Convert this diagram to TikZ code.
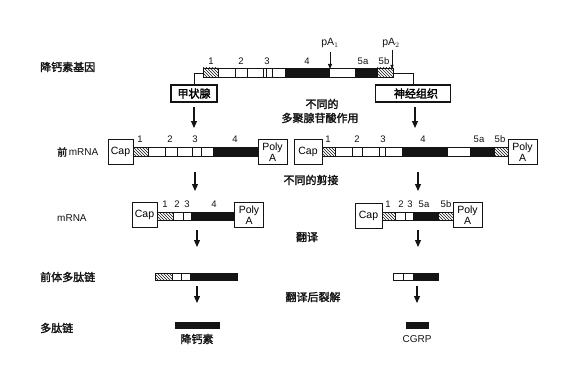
\documentclass[tikz,border=0pt]{standalone}
\usepackage{fontspec}
\setmainfont{Liberation Sans}
\newfontfamily\cjk[FakeBold=2]{Noto Sans CJK SC}
\usetikzlibrary{arrows.meta,patterns}
\definecolor{scanink}{HTML}{141414}
\newcommand{\wexon}[4]{\draw[scanink, line width=0.7pt, fill=white] (#3,#1) rectangle (#4,#2);}
\newcommand{\bexon}[4]{\draw[scanink, line width=0.7pt, fill=scanink] (#3,#1) rectangle (#4,#2);}
\newcommand{\hexon}[4]{\draw[scanink, line width=0.7pt, pattern=north west lines, pattern color=scanink] (#3,#1) rectangle (#4,#2);}

\begin{document}
\begin{tikzpicture}[x=1pt, y=-1pt,
  rowlbl/.style={scanink, anchor=west, inner sep=0, font=\cjk\fontsize{11}{13}\selectfont},
  midlbl/.style={scanink, inner sep=0, font=\cjk\fontsize{11}{13}\selectfont},
  exlbl/.style={scanink, inner sep=0, font=\fontsize{9.5}{10}\selectfont},
  tissuebox/.style={draw=scanink, line width=1.2pt, minimum height=17pt, inner sep=0, font=\cjk\fontsize{11}{13}\selectfont},
  capbox/.style={draw=scanink, line width=1pt, fill=white, minimum width=25pt, minimum height=25pt, inner sep=0, font=\fontsize{10.5}{11}\selectfont},
  polybox/.style={draw=scanink, line width=1pt, fill=white, minimum width=29pt, minimum height=25pt, inner sep=0, align=center, font=\fontsize{10.5}{10.5}\selectfont},
  flowarrow/.style={scanink, line width=1.1pt, -{Triangle[length=7pt,width=6pt]}},
  linkline/.style={scanink, line width=0.9pt}]

  \useasboundingbox[fill=white] (0,0) rectangle (569,377);

  % gene
  \node[rowlbl] (lblgene) at (40,67) {降钙素基因};
  \hexon{68}{77}{203}{218}
  \wexon{68}{77}{218}{235}
  \wexon{68}{77}{235}{247}
  \wexon{68}{77}{247}{263}
  \wexon{68}{77}{263}{266}
  \wexon{68}{77}{266}{272}
  \wexon{68}{77}{272}{285}
  \bexon{68}{77}{285}{329}
  \wexon{68}{77}{329}{355}
  \bexon{68}{77}{355}{377}
  \hexon{68}{77}{377}{393}
  \node[exlbl] (g1) at (211,61) {1};
  \node[exlbl] (g2) at (241,61) {2};
  \node[exlbl] (g3) at (267,61) {3};
  \node[exlbl] (g4) at (307,61) {4};
  \node[exlbl] (g5a) at (363,61) {5a};
  \node[exlbl] (g5b) at (384,61) {5b};
  \node[exlbl, font=\fontsize{10.5}{11}\selectfont] (pa1) at (330,43) {pA$_1$};
  \node[exlbl, font=\fontsize{10.5}{11}\selectfont] (pa2) at (391,43) {pA$_2$};
  \coordinate (pa1tip) at (330,69);
  \coordinate (pa2tip) at (392,69);
  \draw[scanink, line width=1pt, -{Triangle[length=5pt,width=4pt]}] ([yshift=-4pt]pa1.south) -- (pa1tip);
  \draw[scanink, line width=0.7pt, -{Triangle[length=4pt,width=3pt]}] ([yshift=-2pt]pa2.south -| pa2tip) -- (pa2tip);

  \coordinate (gL) at (203,73);
  \coordinate (gR) at (393,73);
  \node[tissuebox, minimum width=46pt] (thy) at (194,93.5) {甲状腺};
  \node[tissuebox, minimum width=75pt] (neu) at (413,93.5) {\hspace{6pt}神经组织};
  \draw[linkline] (gL) -| (thy.north);
  \draw[linkline] (gR) -| (neu.north);

  \node[midlbl] (polyad1) at (322,104) {不同的};
  \node[midlbl] (polyad2) at (320,118) {多聚腺苷酸作用};

  \coordinate (a1L) at (194,107);
  \coordinate (b1L) at (194,128);
  \coordinate (a1R) at (415,107);
  \coordinate (b1R) at (415,128);
  \draw[flowarrow] (a1L) -- (b1L);
  \draw[flowarrow] (a1R) -- (b1R);

  % pre-mRNA
  \node[rowlbl, font=\fontsize{10}{11}\selectfont] (lblpre) at (57,152) {{\cjk 前}\,mRNA};
  \hexon{147}{156}{133}{148}
  \wexon{147}{156}{148}{165}
  \wexon{147}{156}{165}{177}
  \wexon{147}{156}{177}{192}
  \wexon{147}{156}{192}{201}
  \wexon{147}{156}{201}{213}
  \bexon{147}{156}{213}{258}
  \node[capbox] (capP) at (120.5,152) {Cap};
  \node[polybox] (polyP) at (272.5,152) {Poly\\A};
  \node[exlbl] (p1L) at (140,139) {1};
  \node[exlbl] (p2L) at (170,139) {2};
  \node[exlbl] (p3L) at (195,139) {3};
  \node[exlbl] (p4L) at (235,139) {4};

  \hexon{147}{156}{322}{335}
  \wexon{147}{156}{335}{352}
  \wexon{147}{156}{352}{362}
  \wexon{147}{156}{362}{379}
  \wexon{147}{156}{379}{385}
  \wexon{147}{156}{385}{402}
  \bexon{147}{156}{402}{447}
  \wexon{147}{156}{447}{470}
  \bexon{147}{156}{470}{494}
  \hexon{147}{156}{494}{508}
  \node[capbox, minimum width=28pt] (capQ) at (308,152) {Cap};
  \node[polybox] (polyQ) at (522.5,152) {Poly\\A};
  \node[exlbl] (p1R) at (328,139) {1};
  \node[exlbl] (p2R) at (357,139) {2};
  \node[exlbl] (p3R) at (383,139) {3};
  \node[exlbl] (p4R) at (423,139) {4};
  \node[exlbl] (p5aR) at (479,139) {5a};
  \node[exlbl] (p5bR) at (500,139) {5b};

  \node[midlbl] (splice) at (311,180) {不同的剪接};

  \coordinate (a2L) at (195,172);
  \coordinate (b2L) at (195,191);
  \coordinate (a2R) at (418,172);
  \coordinate (b2R) at (418,191);
  \draw[flowarrow] (a2L) -- (b2L);
  \draw[flowarrow] (a2R) -- (b2R);

  % mRNA
  \node[rowlbl, font=\fontsize{10}{11}\selectfont] (lblmrna) at (57,218) {mRNA};
  \hexon{212}{220}{157}{173}
  \wexon{212}{220}{173}{183}
  \wexon{212}{220}{183}{191}
  \bexon{212}{220}{191}{235}
  \node[capbox] (capM) at (144.5,215) {Cap};
  \node[polybox] (polyM) at (249,215) {Poly\\A};
  \node[exlbl] (m1L) at (165,204) {1};
  \node[exlbl] (m2L) at (177,204) {2};
  \node[exlbl] (m3L) at (187,204) {3};
  \node[exlbl] (m4L) at (214,204) {4};

  \hexon{212}{220}{382}{395}
  \wexon{212}{220}{395}{405}
  \wexon{212}{220}{405}{413}
  \bexon{212}{220}{413}{438}
  \hexon{212}{220}{438}{453}
  \node[capbox, minimum width=27pt] (capN) at (368.5,216) {Cap};
  \node[polybox] (polyN) at (467.5,215) {Poly\\A};
  \node[exlbl] (m1R) at (388,204) {1};
  \node[exlbl] (m2R) at (401,204) {2};
  \node[exlbl] (m3R) at (410,204) {3};
  \node[exlbl] (m5aR) at (424,204) {5a};
  \node[exlbl] (m5bR) at (446,204) {5b};

  \node[midlbl] (transl) at (307,237) {翻译};

  \coordinate (a3L) at (197,230);
  \coordinate (b3L) at (197,247);
  \coordinate (a3R) at (418,230);
  \coordinate (b3R) at (418,247);
  \draw[flowarrow] (a3L) -- (b3L);
  \draw[flowarrow] (a3R) -- (b3R);

  % precursor polypeptide
  \node[rowlbl] (lblprec) at (40,277) {前体多肽链};
  \hexon{273}{280}{155}{172}
  \wexon{273}{280}{172}{181}
  \wexon{273}{280}{181}{190}
  \bexon{273}{280}{190}{237}
  \wexon{273}{280}{393}{403}
  \wexon{273}{280}{403}{413}
  \bexon{273}{280}{413}{438}

  \node[midlbl] (cleave) at (313,297) {翻译后裂解};

  \coordinate (a4L) at (197,286);
  \coordinate (b4L) at (197,303);
  \coordinate (a4R) at (417,286);
  \coordinate (b4R) at (417,303);
  \draw[flowarrow] (a4L) -- (b4L);
  \draw[flowarrow] (a4R) -- (b4R);

  % polypeptide
  \node[rowlbl] (lblpep) at (40,328) {多肽链};
  \bexon{322}{328}{175}{219}
  \bexon{322}{328}{406}{428}
  \node[midlbl] (calc) at (197,339) {降钙素};
  \node[exlbl, font=\fontsize{10}{10}\selectfont] (cgrp) at (417,339) {CGRP};

\end{tikzpicture}
\end{document}
